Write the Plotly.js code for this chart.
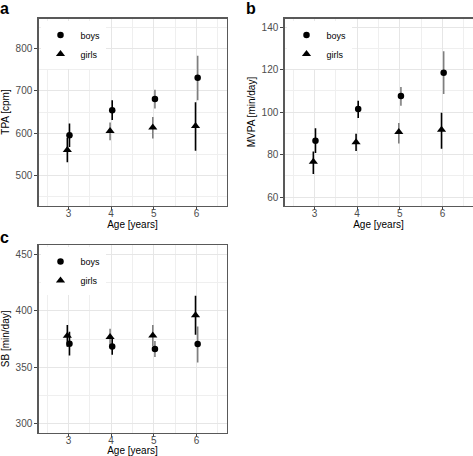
<!DOCTYPE html>
<html><head><meta charset="utf-8">
<script src="https://cdn.plot.ly/plotly-3.0.1.min.js"></script>
<style>html,body{margin:0;padding:0;background:#fff}#chart{width:473px;height:456px}</style>
</head><body><div id="chart"></div>
<script>
// ---- data ----
const ages = [3, 4, 5, 6];
const ageTicks = ['3', '4', '5', '6'];
const groupNames = ['boys', 'girls'];

// a: TPA [cpm]
const tpaBoysMean = [595, 654, 681, 731];
const tpaBoysLow  = [567, 631, 658, 678];
const tpaBoysHigh = [623, 678, 703, 783];
const tpaGirlsMean = [560, 605, 613, 617];
const tpaGirlsLow  = [531, 583, 587, 558];
const tpaGirlsHigh = [589, 625, 638, 673];
const tpaBoysFlag  = [0, 0, 1, 1];
const tpaGirlsFlag = [0, 1, 1, 0];

// b: MVPA [min/day]
const mvpaBoysMean = [86.5, 101.4, 107.5, 118.5];
const mvpaBoysLow  = [80.7, 97.2, 103.0, 108.5];
const mvpaBoysHigh = [92.4, 105.3, 111.8, 128.6];
const mvpaGirlsMean = [76.6, 85.8, 90.6, 91.6];
const mvpaGirlsLow  = [70.8, 81.7, 85.2, 82.7];
const mvpaGirlsHigh = [81.4, 89.8, 94.8, 99.7];
const mvpaBoysFlag  = [0, 0, 1, 1];
const mvpaGirlsFlag = [0, 0, 1, 0];

// c: SB [min/day]
const sbBoysMean = [371.0, 368.5, 366.2, 370.6];
const sbBoysLow  = [360.5, 361.1, 359.1, 354.3];
const sbBoysHigh = [381.5, 375.9, 373.3, 386.1];
const sbGirlsMean = [377.9, 376.8, 378.2, 396.2];
const sbGirlsLow  = [368.2, 369.5, 368.8, 378.8];
const sbGirlsHigh = [387.6, 384.1, 387.6, 413.3];
const sbBoysFlag  = [0, 0, 1, 1];
const sbGirlsFlag = [0, 1, 1, 0];

// ---- styling / build ----
const W = 473, H = 456;
const FONT = 'Liberation Sans, Arial, Helvetica, sans-serif';
const barColors = ['#000000', '#7f7f7f'];
const dodge = {boys: 0.025, girls: -0.025};
const symbols = {boys: 'circle', girls: 'triangle-up'};
const sizes = {boys: 6.5, girls: 8};

const traces = [];
function addPanel(ax, legendId, series) {
  series.forEach(s => {
    [0, 1].forEach(flag => {
      const idx = s.flag.map((f, i) => f === flag ? i : -1).filter(i => i >= 0);
      if (!idx.length) return;
      traces.push({
        type: 'scatter', mode: 'markers', xaxis: 'x' + ax, yaxis: 'y' + ax,
        x: idx.map(i => ages[i] + dodge[s.name]),
        y: idx.map(i => s.mean[i]),
        marker: {size: 1, opacity: 0},
        error_y: {type: 'data', symmetric: false,
          array: idx.map(i => s.high[i] - s.mean[i]),
          arrayminus: idx.map(i => s.mean[i] - s.low[i]),
          width: 0, thickness: 1.6, color: barColors[flag]},
        showlegend: false, hoverinfo: 'skip'
      });
    });
  });
  series.forEach(s => {
    traces.push({
      type: 'scatter', mode: 'markers', name: s.name,
      xaxis: 'x' + ax, yaxis: 'y' + ax, legend: legendId,
      x: ages.map(a => a + dodge[s.name]), y: s.mean,
      marker: {symbol: symbols[s.name], size: sizes[s.name], color: '#000'},
      hoverinfo: 'x+y'
    });
  });
}
addPanel('', 'legend', [
  {name: groupNames[0], mean: tpaBoysMean, low: tpaBoysLow, high: tpaBoysHigh, flag: tpaBoysFlag},
  {name: groupNames[1], mean: tpaGirlsMean, low: tpaGirlsLow, high: tpaGirlsHigh, flag: tpaGirlsFlag}
]);
addPanel('2', 'legend2', [
  {name: groupNames[0], mean: mvpaBoysMean, low: mvpaBoysLow, high: mvpaBoysHigh, flag: mvpaBoysFlag},
  {name: groupNames[1], mean: mvpaGirlsMean, low: mvpaGirlsLow, high: mvpaGirlsHigh, flag: mvpaGirlsFlag}
]);
addPanel('3', 'legend3', [
  {name: groupNames[0], mean: sbBoysMean, low: sbBoysLow, high: sbBoysHigh, flag: sbBoysFlag},
  {name: groupNames[1], mean: sbGirlsMean, low: sbGirlsLow, high: sbGirlsHigh, flag: sbGirlsFlag}
]);

const px = v => v / W;
const py = v => 1 - v / H;
const gridCol = '#e6e6e6';
const minorCol = '#efefef';
function xAxis(domain, anchor) {
  return {
    domain: domain, anchor: anchor, range: [2.3, 6.7],
    tickvals: ages, ticktext: ageTicks,
    showgrid: true, gridcolor: gridCol, gridwidth: 1,
    minor: {tick0: 2.5, dtick: 1, showgrid: true, gridcolor: minorCol, gridwidth: 1},
    showline: true, mirror: true, linecolor: '#595959', linewidth: 1.2,
    ticks: 'outside', ticklen: 3, tickcolor: '#444', tickwidth: 1,
    ticklabelstandoff: -5,
    tickfont: {family: FONT, size: 10, color: '#4d4d4d'},
    zeroline: false, fixedrange: true,
    title: {text: 'Age [years]', font: {family: FONT, size: 10, color: '#000'}, standoff: 1}
  };
}
function yAxis(domain, anchor, range, dtick, title) {
  return {
    domain: domain, anchor: anchor, range: range, dtick: dtick, tick0: 0,
    showgrid: true, gridcolor: gridCol, gridwidth: 1,
    minor: {tick0: 0, dtick: dtick / 2, showgrid: true, gridcolor: minorCol, gridwidth: 1},
    showline: true, mirror: true, linecolor: '#595959', linewidth: 1.2,
    ticks: 'outside', ticklen: 3, tickcolor: '#444', tickwidth: 1,
    tickfont: {family: FONT, size: 10, color: '#4d4d4d'},
    zeroline: false, fixedrange: true,
    title: {text: title, font: {family: FONT, size: 10, color: '#000'}, standoff: 4}
  };
}
function legendAt(xPix, yPix) {
  return {x: px(xPix), y: py(yPix), xanchor: 'left', yanchor: 'top',
    bgcolor: '#fff', borderwidth: 0, font: {family: FONT, size: 9, color: '#000'},
    itemwidth: 30, tracegroupgap: 0};
}
function letter(t, xPix, yPix) {
  return {text: '<b>' + t + '</b>', xref: 'paper', yref: 'paper', x: px(xPix), y: py(yPix),
    xanchor: 'left', yanchor: 'middle', showarrow: false,
    font: {family: FONT, size: 16, color: '#000'}};
}

const layout = {
  width: W, height: H, margin: {l: 0, r: 0, t: 0, b: 0},
  paper_bgcolor: '#fff', plot_bgcolor: '#fff', showlegend: true,
  font: {family: FONT},
  xaxis: xAxis([px(38.5), px(226.5)], 'y'),
  yaxis: yAxis([py(205.5), py(18.5)], 'x', [428.5, 871.5], 100, 'TPA [cpm]'),
  xaxis2: xAxis([px(284.5), px(472.5)], 'y2'),
  yaxis2: yAxis([py(205.5), py(18.5)], 'x2', [56, 144], 20, 'MVPA [min/day]'),
  xaxis3: xAxis([px(38.5), px(226.5)], 'y3'),
  yaxis3: yAxis([py(432.7), py(245)], 'x3', [292.3, 458.2], 50, 'SB [min/day]'),
  legend: legendAt(40.5, 20.5),
  legend2: legendAt(286.5, 20.5),
  legend3: legendAt(40.5, 247),
  annotations: [letter('a', -2, 8), letter('b', 244.5, 8), letter('c', -2, 238)]
};
Plotly.newPlot('chart', traces, layout, {displayModeBar: false, staticPlot: true});
</script></body></html>
